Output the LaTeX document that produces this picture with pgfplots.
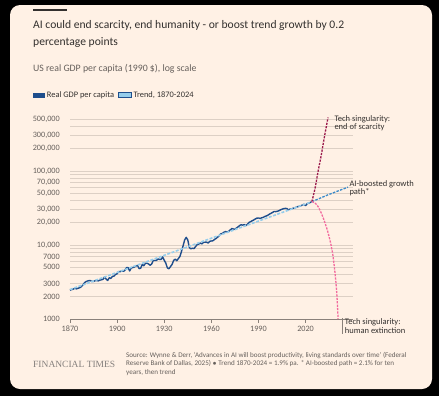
\documentclass[border=0pt]{standalone}
\usepackage{pgfplots}
\pgfplotsset{compat=1.18}
\usepackage{fontspec}
\setmainfont{Carlito}
\newfontfamily\ftserif{Liberation Serif}
\definecolor{ftbg}{HTML}{FFF1E5}
\definecolor{fttext}{HTML}{33302E}
\definecolor{ftgray}{HTML}{66605C}
\definecolor{ftgrid}{HTML}{DDD0C5}
\definecolor{ftaxis}{HTML}{8A817A}
\definecolor{gdpblue}{HTML}{1F4E8C}
\definecolor{trendblue}{HTML}{96CDEB}
\definecolor{aiblue}{HTML}{3A8AC9}
\definecolor{claret}{HTML}{9B1A4C}
\definecolor{candy}{HTML}{F26A9E}
\begin{document}
\begin{tikzpicture}
\useasboundingbox (0,0) rectangle (439bp,-396bp);
\fill[black] (0,0) rectangle (439bp,-396bp);
\fill[ftbg, rounded corners=10bp] (10bp,-5bp) rectangle (432bp,-389bp);
% title bar
\fill[fttext] (33.3bp,-9bp) rectangle (66.7bp,-11bp);
\node[anchor=west, inner sep=0, text=fttext, font=\fontsize{11.6bp}{15bp}\selectfont] at (33bp,-25bp) {AI could end scarcity, end humanity - or boost trend growth by 0.2};
\node[anchor=west, inner sep=0, text=fttext, font=\fontsize{11.6bp}{15bp}\selectfont] at (33bp,-42.7bp) {percentage points};
\node[anchor=west, inner sep=0, text=ftgray, font=\fontsize{9.8bp}{11bp}\selectfont] at (33bp,-68.3bp) {US real GDP per capita (1990 \$), log scale};
% legend
\fill[gdpblue] (33.3bp,-92.5bp) rectangle (45bp,-97.5bp);
\node[anchor=west, inner sep=0, text=fttext, font=\fontsize{8.4bp}{9bp}\selectfont] at (46.7bp,-95bp) {Real GDP per capita};
\filldraw[fill=trendblue, draw=gdpblue, line width=0.6bp] (118.6bp,-92.6bp) rectangle (131.2bp,-97.4bp);
\node[anchor=west, inner sep=0, text=fttext, font=\fontsize{8.4bp}{9bp}\selectfont] at (133.3bp,-95bp) {Trend, 1870-2024};
\begin{axis}[
  at={(70bp,-319bp)}, anchor=south west,
  width=282.7bp, height=199.7bp, scale only axis,
  xmin=1870, xmax=2050,
  ymode=log, ymin=1000, ymax=500000,
  clip=false,
  axis x line*=bottom, axis y line*=left,
  y axis line style={draw=none},
  x axis line style={ftaxis, line width=0.6bp},
  xtick={1870,1900,1930,1960,1990,2020},
  xticklabels={1870,1900,1930,1960,1990,2020},
  x tick style={ftaxis, line width=0.6bp},
  tick align=outside, major tick length=4bp,
  ytick={1000,2000,3000,4000,5000,6000,7000,8000,9000,10000,20000,30000,40000,50000,60000,70000,80000,90000,100000,200000,300000,400000,500000},
  yticklabels={1000,2000,3000,{},5000,{},7000,{},{},{10,000},{20,000},{30,000},{},{50,000},{},{70,000},{},{},{100,000},{200,000},{300,000},{},{500,000}},
  y tick style={draw=none},
  minor y tick num=0,
  ymajorgrids, grid style={ftgrid, line width=0.6bp},
  yticklabel style={text=ftgray, font=\fontsize{8.2bp}{9bp}\selectfont, anchor=east, inner sep=0pt, xshift=-6bp},
  xticklabel style={text=ftgray, font=\fontsize{8.2bp}{9bp}\selectfont, inner sep=0pt, yshift=-3bp},
]
\addplot[gdpblue, line width=1.4bp, line join=round] coordinates {
(1870,2445)(1871,2503)(1872,2524)(1873,2601)(1874,2556)(1875,2599)(1876,2640)(1877,2706)(1878,2842)(1879,3056)
(1880,3184)(1881,3255)(1882,3299)(1883,3297)(1884,3224)(1885,3213)(1886,3305)(1887,3311)(1888,3274)(1889,3346)
(1890,3392)(1891,3434)(1892,3688)(1893,3467)(1894,3318)(1895,3614)(1896,3533)(1897,3765)(1898,3798)(1899,4007)
(1900,4091)(1901,4387)(1902,4359)(1903,4504)(1904,4404)(1905,4560)(1906,4946)(1907,4950)(1908,4464)(1909,4907)
(1910,4964)(1911,5046)(1912,5201)(1913,5301)(1914,4799)(1915,4864)(1916,5459)(1917,5248)(1918,5659)(1919,5680)
(1920,5552)(1921,5323)(1922,5540)(1923,6164)(1924,6181)(1925,6189)(1926,6473)(1927,6395)(1928,6381)(1929,6899)
(1930,6213)(1931,5691)(1932,4908)(1933,4777)(1934,5114)(1935,5467)(1936,6204)(1937,6430)(1938,6126)(1939,6561)
(1940,7010)(1941,8206)(1942,9741)(1943,11700)(1944,12700)(1945,11709)(1946,9197)(1947,8886)(1948,9065)(1949,8944)
(1950,9561)(1951,10116)(1952,10316)(1953,10613)(1954,10359)(1955,10897)(1956,10914)(1957,10920)(1958,10631)(1959,11230)
(1960,11328)(1961,11402)(1962,11905)(1963,12242)(1964,12773)(1965,13419)(1966,14134)(1967,14330)(1968,14863)(1969,15179)
(1970,15030)(1971,15304)(1972,15944)(1973,16689)(1974,16491)(1975,16284)(1976,16975)(1977,17567)(1978,18373)(1979,18789)
(1980,18577)(1981,18856)(1982,18325)(1983,19048)(1984,20195)(1985,20717)(1986,21236)(1987,21788)(1988,22499)(1989,23059)
(1990,23201)(1991,22849)(1992,23298)(1993,23616)(1994,24284)(1995,24702)(1996,25326)(1997,26129)(1998,26834)(1999,27588)
(2000,28403)(2001,28279)(2002,28553)(2003,29036)(2004,29848)(2005,30482)(2006,31013)(2007,31244)(2008,31178)(2009,29899)
(2010,30491)(2011,30796)(2012,31340)(2013,31740)(2014,32330)(2015,32990)(2016,33350)(2017,33930)(2018,34780)(2019,35450)
(2020,34100)(2021,36100)(2022,36800)(2023,37600)(2024,38500)
};
\addplot[trendblue, line width=1.6bp, dash pattern=on 3bp off 1.5bp] coordinates {(1870,2500)(2024,38500)};
\addplot[aiblue, line width=1.3bp, dash pattern=on 2.5bp off 1.3bp] coordinates {(2024,38500)(2034,47400)(2047,60600)};
\addplot[claret, line width=1.3bp, dash pattern=on 2.2bp off 1.2bp, smooth] coordinates {(2024,38500)(2026,58000)(2028,100000)(2030,165000)(2032,290000)(2034.3,530000)};
\addplot[candy, line width=1.3bp, dash pattern=on 2.2bp off 1.2bp, smooth] coordinates {(2024,38500)(2026,37000)(2028,33000)(2030,27000)(2032,21000)(2034,15500)(2036,10500)(2037.5,7000)(2039,3700)(2040,2000)(2040.7,1000)};
\end{axis}
% annotations
\node[anchor=west, inner sep=0, align=left, text=fttext, font=\fontsize{8.5bp}{8.5bp}\selectfont] at (334.3bp,-123bp) {Tech singularity:\\end of scarcity};
\node[anchor=west, inner sep=0, align=left, text=fttext, font=\fontsize{8.5bp}{8.5bp}\selectfont] at (349.3bp,-188.3bp) {AI-boosted growth\\path*};
\draw[ftaxis, line width=0.6bp] (342.5bp,-318bp) -- (342.5bp,-334bp);
\node[anchor=west, inner sep=0, align=left, text=fttext, font=\fontsize{8.5bp}{8.5bp}\selectfont] at (344.7bp,-326.2bp) {Tech singularity:\\human extinction};
% footer
\node[anchor=west, inner sep=0, text=ftgray!80, font=\ftserif\fontsize{9.5bp}{11bp}\selectfont] at (33bp,-364bp) {FINANCIAL TIMES};
\node[anchor=north west, inner sep=0, align=left, text=ftgray, font=\fontsize{7.1bp}{8.5bp}\selectfont] at (126bp,-352bp) {Source: Wynne \& Derr, `Advances in AI will boost productivity, living standards over time' (Federal\\Reserve Bank of Dallas, 2025) $\bullet$ Trend 1870-2024 = 1.9\% pa. * AI-boosted path = 2.1\% for ten\\years, then trend};
\end{tikzpicture}
\end{document}
